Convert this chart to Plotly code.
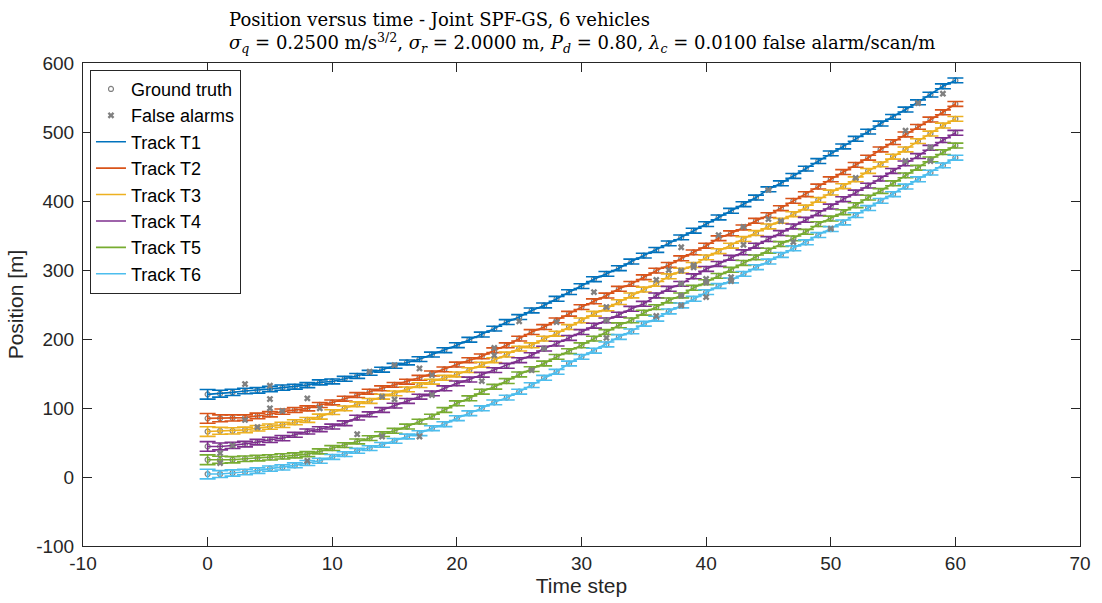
import plotly.graph_objects as go

# ---------------- data ----------------
time_steps = list(range(0, 61))

track_T1 = [119.8, 120.8, 122.7, 124.6, 125.6, 127.6, 129.5, 130.9, 133.2, 137.1,
            138.5, 142.3, 146.5, 151.0, 155.5, 161.2, 166.0, 170.8, 177.5, 183.8,
            191.0, 198.9, 206.4, 215.0, 224.6, 231.8, 241.4, 248.6, 258.3, 267.9,
            276.6, 286.7, 294.4, 302.6, 312.2, 320.8, 329.0, 338.6, 347.3, 356.9,
            366.5, 376.2, 385.8, 395.4, 405.0, 417.0, 425.7, 436.3, 446.9, 457.9,
            469.0, 479.1, 490.2, 500.5, 512.3, 521.9, 532.5, 543.1, 554.2, 566.2,
            574.8]
track_T2 = [85.0, 85.1, 85.6, 86.1, 88.5, 90.9, 94.8, 97.1, 99.5, 104.4,
            108.0, 113.5, 118.8, 123.6, 128.5, 133.5, 138.1, 143.8, 150.1, 156.0,
            163.0, 169.3, 174.8, 183.7, 190.9, 200.5, 210.1, 217.3, 227.0, 236.6,
            246.2, 254.6, 263.0, 272.7, 279.9, 289.5, 299.1, 307.3, 316.9, 325.5,
            335.2, 346.0, 353.2, 361.7, 371.3, 379.5, 389.6, 400.2, 409.8, 420.9,
            431.5, 442.0, 452.4, 462.7, 474.7, 485.3, 496.4, 507.4, 518.0, 528.6,
            540.6]
track_T3 = [65.9, 66.9, 66.9, 68.3, 70.7, 73.1, 75.5, 79.4, 82.7, 87.5,
            94.0, 99.5, 105.4, 110.2, 116.4, 121.2, 127.0, 133.2, 138.1, 143.8,
            148.6, 154.9, 162.8, 169.3, 177.5, 186.1, 190.9, 200.5, 207.7, 217.3,
            227.0, 236.6, 244.2, 253.4, 263.1, 271.7, 279.9, 290.9, 299.1, 307.3,
            318.3, 327.3, 335.2, 344.8, 353.5, 363.1, 371.3, 380.9, 390.5, 401.6,
            412.2, 421.4, 431.5, 443.5, 453.1, 464.2, 474.7, 486.8, 497.8, 509.4,
            519.0]
track_T4 = [44.3, 44.3, 45.7, 47.6, 50.5, 53.9, 56.3, 61.1, 65.9, 69.3,
            73.1, 77.9, 86.1, 90.9, 97.1, 103.4, 110.2, 116.4, 121.2, 128.5,
            135.7, 141.2, 148.2, 154.9, 161.2, 169.3, 176.5, 186.1, 193.3, 201.5,
            210.1, 219.3, 227.0, 235.2, 243.8, 251.0, 263.1, 272.7, 279.9, 290.9,
            301.5, 308.8, 317.7, 325.7, 335.2, 344.8, 353.5, 363.1, 372.7, 382.3,
            392.0, 402.6, 412.2, 422.3, 432.4, 443.5, 454.5, 465.1, 477.1, 488.2,
            498.8]
track_T5 = [25.0, 25.0, 25.0, 26.5, 27.4, 28.4, 29.8, 31.3, 33.2, 37.1,
            41.9, 46.2, 51.5, 56.3, 62.1, 66.9, 73.1, 80.3, 87.5, 97.1,
            106.8, 114.0, 123.6, 130.8, 139.0, 148.6, 156.3, 164.5, 174.1, 182.3,
            190.9, 200.5, 210.1, 219.8, 227.0, 238.1, 246.2, 255.9, 263.1, 274.2,
            282.3, 291.5, 300.3, 310.2, 318.3, 328.0, 337.6, 345.8, 355.4, 366.5,
            374.6, 383.8, 393.9, 404.9, 414.5, 425.6, 437.1, 448.2, 460.2, 470.8,
            480.4]
track_T6 = [4.3, 4.3, 5.8, 7.3, 9.2, 12.1, 14.0, 16.9, 20.3, 23.6,
            29.1, 33.2, 38.0, 41.8, 46.6, 52.4, 58.7, 63.5, 70.7, 76.5,
            85.2, 92.4, 99.6, 108.2, 115.0, 123.6, 133.2, 143.8, 152.5, 164.5,
            174.1, 183.0, 192.1, 202.9, 211.1, 222.1, 229.4, 239.9, 248.6, 258.3,
            267.9, 276.8, 284.8, 294.4, 304.0, 312.2, 321.8, 331.4, 340.1, 350.6,
            359.3, 368.9, 379.5, 389.8, 400.2, 409.8, 420.9, 431.5, 441.1, 451.6,
            462.7]

# error-bar half heights (same for every track)
track_sigma = [7.0, 5.0, 4.5, 4.0, 4.0, 3.8, 3.8, 3.6, 3.6, 3.6,
               3.5, 3.5, 3.5, 3.5, 3.5, 3.5, 3.5, 3.5, 3.5, 3.5,
               3.5, 3.5, 3.5, 3.5, 3.5, 3.5, 3.5, 3.5, 3.5, 3.5,
               3.5, 3.5, 3.5, 3.5, 3.5, 3.5, 3.5, 3.5, 3.5, 3.5,
               3.5, 3.5, 3.5, 3.5, 3.5, 3.5, 3.5, 3.5, 3.5, 3.5,
               3.5, 3.5, 3.5, 3.5, 3.5, 3.5, 3.5, 3.5, 3.5, 3.5,
               3.5]

# ground truth (coincides with the tracks at this scale)
truth_series = [track_T1, track_T2, track_T3, track_T4, track_T5, track_T6]

# false alarms
fa_time = [1, 1, 2, 3, 3, 4, 5, 5, 5, 6, 8, 8, 9, 12, 13, 14, 14, 15, 15, 17,
           17, 18, 18, 22, 23, 23, 25, 26, 27, 28, 31, 32, 32, 32,
           36, 36, 37, 38, 38, 38, 38, 38, 39, 39, 40, 40, 40, 41, 42, 42, 43, 43,
           45, 45, 46, 47, 50, 52, 56, 56, 57, 58, 58, 59]
fa_pos = [34.6, 20.2, 45.7, 134.7, 82.7, 72.2, 132.3, 113.0, 99.6, 95.7, 114.0, 23.5, 99.6, 62.0, 152.5, 116.4, 58.7, 162.0, 112.5, 157.3,
          58.7, 147.6, 118.8, 139.0, 176.5, 187.0, 225.5, 154.8, 186.0, 224.6, 268.0, 246.3, 227.0, 201.6,
          285.7, 233.3, 300.0, 333.0, 299.0, 280.0, 263.0, 248.6, 307.0, 303.8, 287.0, 260.7, 281.8, 350.6, 289.6, 284.0, 362.5, 336.5,
          416.0, 373.7, 371.0, 340.5, 360.0, 433.5, 502.0, 458.0, 542.0, 477.5, 458.0, 555.5]

track_names = ["Track T1", "Track T2", "Track T3", "Track T4", "Track T5", "Track T6"]
track_colors = ["#0072BD", "#D95319", "#EDB120", "#7E2F8E", "#77AC30", "#4DBEEE"]
tracks = [track_T1, track_T2, track_T3, track_T4, track_T5, track_T6]

x_ticks = [-10, 0, 10, 20, 30, 40, 50, 60, 70]
y_ticks = [-100, 0, 100, 200, 300, 400, 500, 600]

GRAY = "rgb(128,128,128)"
AXC = "#262626"

fig = go.Figure()

for i, ys in enumerate(truth_series):
    fig.add_trace(go.Scatter(
        x=time_steps, y=ys, mode="markers", name="Ground truth",
        marker=dict(symbol="circle-open", size=5, color=GRAY, line=dict(width=1.2, color=GRAY)),
        showlegend=(i == 0), legendgroup="gt", legendrank=1,
    ))

for i, (name, col, ys) in enumerate(zip(track_names, track_colors, tracks)):
    fig.add_trace(go.Scatter(
        x=time_steps, y=ys, mode="lines", name=name,
        line=dict(color=col, width=1.6),
        error_y=dict(type="data", array=track_sigma, visible=True,
                     color=col, thickness=1.6, width=8),
        legendrank=3 + i,
    ))

fig.add_trace(go.Scatter(
    x=fa_time, y=fa_pos, mode="markers", name="False alarms",
    marker=dict(symbol="x", size=6, color=GRAY, line=dict(width=0)),
    legendrank=2,
))

fig.update_layout(
    width=1102, height=603,
    margin=dict(l=83, r=11, t=63, b=55),
    paper_bgcolor="white", plot_bgcolor="white",
    font=dict(family="Liberation Sans, Arial, sans-serif", color=AXC),
    showlegend=True,
    legend=dict(
        x=0.007, y=0.986, xanchor="left", yanchor="top",
        bgcolor="white", bordercolor="#262626", borderwidth=1,
        font=dict(size=18, color="black"), itemwidth=30,
        tracegroupgap=0,
    ),
    annotations=[dict(
        text=("Position versus time - Joint SPF-GS, 6 vehicles<br>"
              "<i>σ<sub>q</sub></i> = 0.2500 m/s<sup>3/2</sup>, "
              "<i>σ<sub>r</sub></i> = 2.0000 m, "
              "<i>P<sub>d</sub></i> = 0.80, "
              "<i>λ<sub>c</sub></i> = 0.0100 false alarm/scan/m"),
        xref="paper", yref="paper", x=0.5, y=1.0 + 56 / 485,
        xanchor="center", yanchor="top", align="left", showarrow=False,
        font=dict(family="DejaVu Serif, serif", size=18, color="black"),
    )],
)

fig.update_xaxes(
    range=[-10, 70], tickvals=x_ticks, ticktext=[str(v) for v in x_ticks],
    showgrid=False, zeroline=False,
    showline=True, linecolor=AXC, linewidth=1, mirror="ticks",
    ticks="inside", ticklen=9, tickcolor=AXC,
    tickfont=dict(size=19, color=AXC),
    title=dict(text="Time step", font=dict(size=21, color=AXC), standoff=4),
)
fig.update_yaxes(
    range=[-100, 600], tickvals=y_ticks, ticktext=[str(v) for v in y_ticks],
    showgrid=False, zeroline=False,
    showline=True, linecolor=AXC, linewidth=1, mirror="ticks",
    ticks="inside", ticklen=9, tickcolor=AXC,
    tickfont=dict(size=19, color=AXC), ticklabelstandoff=4,
    title=dict(text="Position [m]", font=dict(size=21, color=AXC), standoff=6),
)

fig.write_html("out.html")
